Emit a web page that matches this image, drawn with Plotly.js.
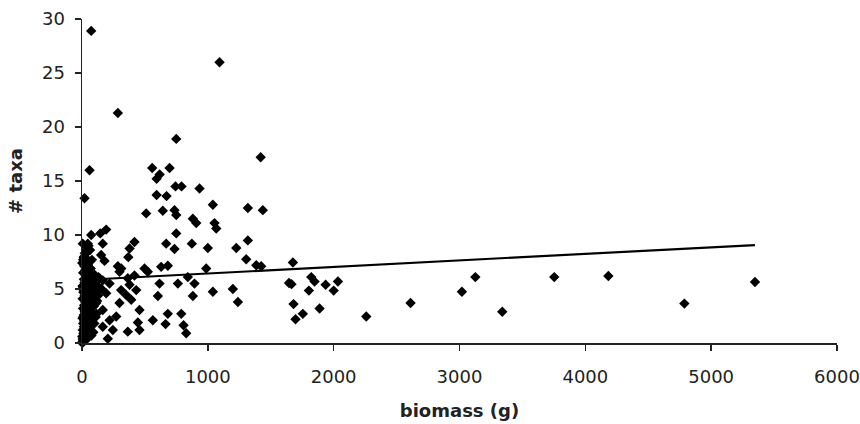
<!DOCTYPE html>
<html>
<head>
<meta charset="utf-8">
<script src="https://cdn.plot.ly/plotly-3.0.1.min.js"></script>
<style>html,body{margin:0;padding:0;background:#fff;}#chart{width:860px;height:424px;}</style>
</head>
<body>
<div id="chart"></div>
<script>
// biomass (g) values of the samples
const biomass = [
  73, 1093, 285, 749, 60, 558, 696, 1420, 617, 593, 743, 791, 934, 593, 672, 20,
  1040, 1318, 1437, 510, 642, 735, 749, 881, 908, 1053, 1067, 749, 192, 145, 73,
  6, 46, 165, 417, 378, 669, 735, 873, 1000, 1226, 1318, 1305, 1385, 152, 179, 46,
  368, 285, 312, 497, 629, 682, 987, 417, 298, 523, 616, 762, 841, 894, 1040, 1199,
  1239, 603, 881, 431, 311, 351, 391, 298, 457, 563, 682, 789, 272, 444, 664, 807,
  457, 364, 245, 828, 205, 1424, 1676, 1645, 1665, 1822, 1848, 1803, 1936, 2000,
  2034, 1681, 1888, 1755, 1697, 2259, 2611, 3019, 3126, 3340, 3753, 4183, 4787, 5348,
  20, 364, 378, 219, 165, 192, 152, 165, 219, 165, 113,
  4, 8, 2, 11, 6, 15, 9, 19, 4, 14, 22, 8, 17, 26, 5, 21, 11, 30, 6, 24, 15, 34,
  9, 28, 19, 38, 14, 22,
  34, 45, 41, 52, 36, 60, 49, 68, 39, 56, 71, 44, 64, 75, 51, 82, 58, 69, 46, 79,
  90, 86, 94, 98, 105, 88, 101, 112, 109, 120, 116, 128, 131, 139, 66, 74, 81,
  54, 30, 26, 19, 75, 98, 109, 32, 41, 64, 52,
  3, 7, 12, 16, 25, 33, 42, 50, 58, 66, 10, 18, 27, 36, 44, 53, 61, 70, 78, 86,
  5, 13, 21, 29, 37, 48, 57, 65, 2, 9, 17, 24, 31, 40, 47, 55
];
// number of taxa of the samples
const taxa = [
  28.9, 26.0, 21.3, 18.9, 16.0, 16.2, 16.2, 17.2, 15.6, 15.2, 14.5, 14.5, 14.3, 13.7, 13.6, 13.4,
  12.8, 12.5, 12.3, 12.0, 12.25, 12.3, 11.85, 11.5, 11.1, 11.1, 10.6, 10.15, 10.5, 10.15, 10.0,
  9.2, 9.2, 9.2, 9.35, 8.75, 9.2, 8.7, 9.2, 8.8, 8.8, 9.5, 7.75, 7.2, 8.15, 7.6, 7.7,
  7.95, 7.1, 6.9, 6.9, 7.05, 7.15, 6.9, 6.25, 6.6, 6.6, 5.5, 5.5, 6.1, 5.5, 4.75, 5.0,
  3.8, 4.35, 4.35, 4.9, 4.9, 4.45, 4.0, 3.7, 3.05, 2.1, 2.7, 2.7, 2.45, 1.9, 1.75, 1.65,
  1.2, 1.05, 1.2, 0.9, 0.4, 7.1, 7.45, 5.55, 5.45, 6.1, 5.7, 4.85, 5.4, 4.85,
  5.7, 3.6, 3.2, 2.7, 2.2, 2.45, 3.7, 4.75, 6.1, 2.9, 6.1, 6.2, 3.65, 5.65,
  7.2, 6.0, 5.4, 5.5, 5.8, 4.6, 5.05, 3.05, 2.1, 1.5, 3.7,
  0.1, 0.3, 0.6, 0.9, 1.2, 1.5, 1.8, 2.0, 2.3, 2.6, 2.9, 3.2, 3.5, 3.8, 4.1, 4.4, 4.7, 5.0, 5.3, 5.6, 5.9, 6.2,
  6.5, 6.8, 7.1, 7.5, 7.9, 8.3,
  0.5, 0.8, 1.4, 1.9, 2.2, 2.5, 3.0, 3.3, 3.6, 4.0, 4.3, 4.8, 5.1, 5.4, 5.8, 6.0, 6.4, 6.9, 7.3, 7.7,
  1.0, 2.2, 3.4, 4.2, 5.3, 5.9, 6.3, 5.7, 4.8, 3.9, 2.7, 4.4, 6.1, 5.1, 1.6, 2.0, 2.8,
  2.6, 3.1, 1.1, 0.2, 0.7, 1.8, 2.4, 7.0, 8.4, 8.6, 9.0,
  0.0, 0.4, 0.2, 0.6, 1.0, 0.3, 1.3, 0.9, 1.7, 1.2, 2.4, 2.1, 2.8, 3.0, 3.4, 2.7, 3.9, 3.5, 4.5, 4.1,
  5.2, 4.9, 5.6, 6.3, 5.5, 6.6, 5.9, 6.9, 7.4, 7.7, 8.0, 7.3, 8.6, 6.7, 7.0, 4.6
];
// linear trendline
const trendIntercept = 5.83;
const trendSlope = 0.000606;
const xTicks = [0, 1000, 2000, 3000, 4000, 5000, 6000];
const yTicks = [0, 5, 10, 15, 20, 25, 30];

const xMin = Math.min(...biomass), xMax = Math.max(...biomass);
const trendX = [xMin, xMax];
const trendY = trendX.map(v => trendIntercept + trendSlope * v);

const tickFont = {family: 'DejaVu Sans, Arial, sans-serif', size: 18, color: '#222'};
const titleFont = {family: 'DejaVu Sans, Arial, sans-serif', size: 18, color: '#222', weight: 700};

const data = [
  {
    type: 'scatter', mode: 'markers', x: biomass, y: taxa,
    marker: {symbol: 'diamond', size: 8, color: '#000'},
    cliponaxis: false, hoverinfo: 'x+y'
  },
  {
    type: 'scatter', mode: 'lines', x: trendX, y: trendY,
    line: {color: '#000', width: 2.2}, cliponaxis: false, hoverinfo: 'skip'
  }
];

const layout = {
  width: 860, height: 424,
  margin: {l: 82, r: 23, t: 19, b: 81},
  paper_bgcolor: '#fff', plot_bgcolor: '#fff',
  showlegend: false,
  xaxis: {
    range: [0, 6000], tickvals: xTicks, ticktext: xTicks.map(String),
    showline: true, linecolor: '#222', linewidth: 1.5,
    ticks: 'outside', ticklen: 6, tickcolor: '#222', tickwidth: 1.5,
    showgrid: false, zeroline: false, tickfont: tickFont,
    ticklabelstandoff: 11,
    title: {text: 'biomass (g)', font: titleFont, standoff: 18}
  },
  yaxis: {
    range: [0, 30], tickvals: yTicks, ticktext: yTicks.map(String),
    showline: true, linecolor: '#222', linewidth: 1.5,
    ticks: 'outside', ticklen: 6, tickcolor: '#222', tickwidth: 1.5,
    showgrid: false, zeroline: false, tickfont: tickFont,
    ticklabelstandoff: 6,
    title: {text: '# taxa', font: titleFont, standoff: 14}
  }
};

Plotly.newPlot('chart', data, layout, {displayModeBar: false, staticPlot: true});
</script>
</body>
</html>
